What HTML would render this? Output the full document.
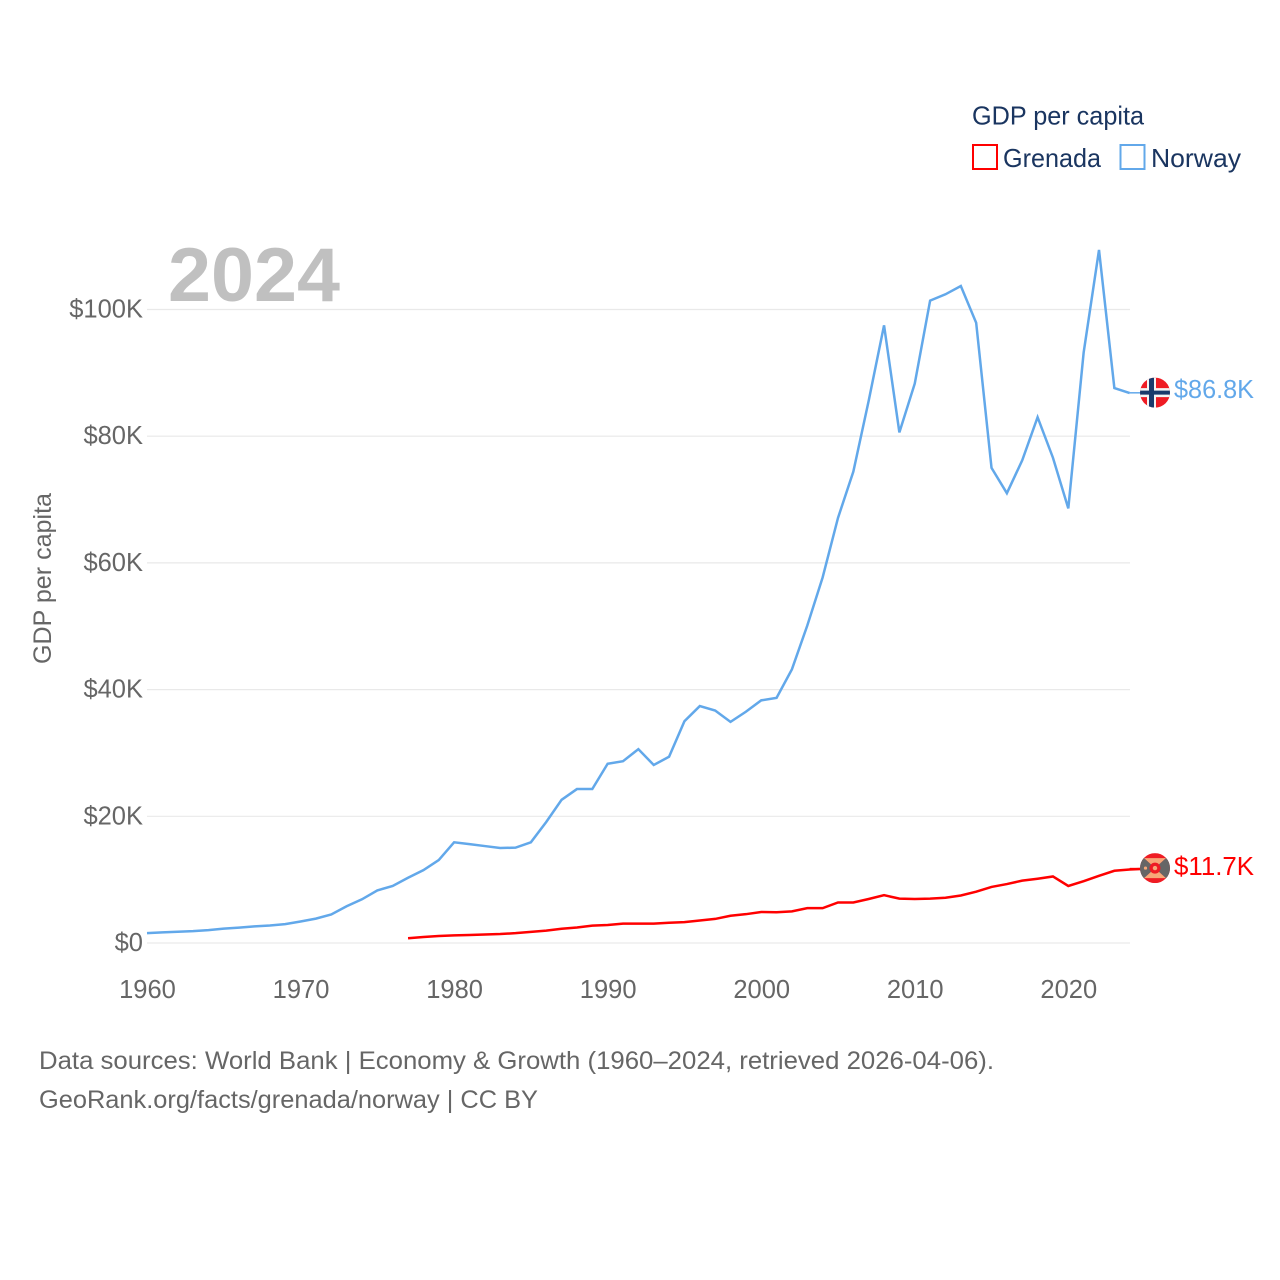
<!DOCTYPE html>
<html lang="en">
<head>
<meta charset="utf-8">
<title>GDP per capita: Grenada and Norway</title>
<style>
html,body{margin:0;padding:0;background:#fff;}
svg{display:block;}
text{font-family:"Liberation Sans",sans-serif;}
.tick{font-size:25.5px;fill:#666;}
.foot{font-size:25px;fill:#666;}
.leg{font-size:26px;fill:#1a3560;}
</style>
</head>
<body>
<svg id="chart" xmlns="http://www.w3.org/2000/svg" width="1280" height="1280" viewBox="0 0 1280 1280">
  <defs>
    <clipPath id="flag-clip-no"><circle cx="0" cy="0" r="15"/></clipPath>
    <clipPath id="flag-clip-gd"><circle cx="0" cy="0" r="15"/></clipPath>
  </defs>
  <rect x="0" y="0" width="1280" height="1280" fill="#fff"/>
  <g id="grid"></g>
  <g id="yticks"></g>
  <g id="xticks"></g>
  <text x="168" y="301" font-size="76" font-weight="700" fill="#c0c0c0" textLength="172" lengthAdjust="spacingAndGlyphs">2024</text>
  <text transform="translate(51,664) rotate(-90)" font-size="25" fill="#666" textLength="171" lengthAdjust="spacingAndGlyphs">GDP per capita</text>
  <g id="series"></g>
  <g id="flag-norway">
    <g clip-path="url(#flag-clip-no)">
      <rect x="-15" y="-15" width="30" height="30" fill="#ef1c24"/>
      <rect x="-8" y="-15" width="9" height="30" fill="#f4f4f4"/>
      <rect x="-15" y="-4.5" width="30" height="9" fill="#f4f4f4"/>
      <rect x="-6" y="-15" width="5" height="30" fill="#1b3a6b"/>
      <rect x="-15" y="-2" width="30" height="4" fill="#1b3a6b"/>
    </g>
  </g>
  <g id="flag-grenada">
    <g clip-path="url(#flag-clip-gd)">
      <rect x="-15" y="-15" width="30" height="30" fill="#ef1c24"/>
      <polygon points="-11,-10 11,-10 0,0" fill="#f7a878"/>
      <polygon points="-11,10 11,10 0,0" fill="#f7a878"/>
      <polygon points="-16,-10 -11,-10 0,0 -11,10 -16,10" fill="#666"/>
      <polygon points="16,-10 11,-10 0,0 11,10 16,10" fill="#666"/>
      <circle cx="0" cy="0" r="5.5" fill="#ef1c24"/>
      <circle cx="0" cy="0" r="2.2" fill="#f7a878"/>
      <circle cx="-9.5" cy="0" r="1.6" fill="#f7a878"/>
    </g>
  </g>
  <g id="end-labels"></g>
  <text class="leg" x="972" y="124.5" textLength="172" lengthAdjust="spacingAndGlyphs">GDP per capita</text>
  <g>
    <rect x="973" y="145" width="24" height="24" fill="none" stroke="#f00" stroke-width="2"/>
    <text class="leg" x="1003" y="167" textLength="98" lengthAdjust="spacingAndGlyphs">Grenada</text>
  </g>
  <g>
    <rect x="1120.5" y="145" width="24" height="24" fill="none" stroke="#62a8ea" stroke-width="2"/>
    <text class="leg" x="1151" y="167" textLength="90" lengthAdjust="spacingAndGlyphs">Norway</text>
  </g>
  <text class="foot" x="39" y="1069" textLength="955" lengthAdjust="spacingAndGlyphs">Data sources: World Bank | Economy &amp; Growth (1960–2024, retrieved 2026-04-06).</text>
  <text class="foot" x="39" y="1108" textLength="499" lengthAdjust="spacingAndGlyphs">GeoRank.org/facts/grenada/norway | CC BY</text>
</svg>
<script>
const norwayStartYear = 1960;
const grenadaStartYear = 1977;
const norwayValues = [1.55,1.67,1.78,1.88,2.04,2.27,2.43,2.62,2.76,2.98,3.4,3.85,4.5,5.8,6.9,8.3,9.0,10.3,11.5,13.1,15.9,15.6,15.3,15.0,15.05,15.9,19.1,22.6,24.3,24.3,28.3,28.7,30.6,28.1,29.4,35.0,37.4,36.7,34.9,36.5,38.3,38.7,43.2,50.1,57.7,67.1,74.4,85.6,97.5,80.6,88.3,101.4,102.4,103.7,97.9,75.0,71.0,76.2,83.0,76.6,68.6,93.2,109.4,87.6,86.8];
const grenadaValues = [0.75,0.95,1.1,1.2,1.27,1.35,1.42,1.55,1.75,1.95,2.25,2.45,2.75,2.85,3.05,3.05,3.05,3.2,3.3,3.55,3.8,4.3,4.55,4.9,4.85,5.0,5.5,5.5,6.4,6.4,6.95,7.55,7.0,6.95,7.0,7.15,7.5,8.1,8.85,9.3,9.85,10.15,10.5,9.0,9.75,10.6,11.4,11.6,11.7];
const xTickYears = [1960,1970,1980,1990,2000,2010,2020];
const yTickValues = [0,20,40,60,80,100];
const yTickLabels = ["$0","$20K","$40K","$60K","$80K","$100K"];

const NS = "http://www.w3.org/2000/svg";
function xScale(year){ return 147 + (year - 1960) * 15.355; }
function yScale(v){ return 943 - v * 6.335; }
function make(tag, parent, attrs){
  const el = document.createElementNS(NS, tag);
  for (const k in attrs) el.setAttribute(k, attrs[k]);
  parent.appendChild(el);
  return el;
}

const grid = document.getElementById("grid");
const yticks = document.getElementById("yticks");
const xticks = document.getElementById("xticks");

yTickValues.forEach(function(v, i){
  const line = make("line", grid, {x1:147, x2:1130, y1:yScale(v), y2:yScale(v), stroke:"#e9e9e9", "stroke-width":1.2});
  
  
  const t = make("text", yticks, {x:143, y:yScale(v)+8, "text-anchor":"end", class:"tick"});
  t.textContent = yTickLabels[i];
  
  
});

xTickYears.forEach(function(yr){
  const t = make("text", xticks, {x:xScale(yr)+0.5, y:998, "text-anchor":"middle", class:"tick"});
  t.textContent = String(yr);
  
  
});

const seriesGroup = document.getElementById("series");
const endLabels = document.getElementById("end-labels");

function pointsFor(values, startYear){
  return values.map(function(v, i){
    return xScale(startYear + i).toFixed(2) + "," + yScale(v).toFixed(2);
  }).join(" ");
}
function money(v){ return "$" + v.toFixed(1) + "K"; }

/* Norway */
const norwayLine = make("polyline", seriesGroup, {points:pointsFor(norwayValues, norwayStartYear), fill:"none", stroke:"#62a8ea", "stroke-width":2.5, "stroke-linejoin":"miter"});


const norwayLast = norwayValues[norwayValues.length - 1];
const norwayY = yScale(norwayLast);
const norwayLeader = make("line", seriesGroup, {x1:xScale(2024), x2:1142, y1:norwayY-0.3, y2:norwayY-0.3, stroke:"#62a8ea", "stroke-width":1.5});


document.getElementById("flag-norway").setAttribute("transform", "translate(1155," + (norwayY-0.5) + ")");
const norwayEnd = make("text", endLabels, {x:1174, y:norwayY+5, "font-size":25.5, fill:"#62a8ea", textLength:80, lengthAdjust:"spacingAndGlyphs"});
norwayEnd.textContent = money(norwayLast);



/* Grenada */
const grenadaLine = make("polyline", seriesGroup, {points:pointsFor(grenadaValues, grenadaStartYear), fill:"none", stroke:"#f00", "stroke-width":2.5, "stroke-linejoin":"miter"});


const grenadaLast = grenadaValues[grenadaValues.length - 1];
const grenadaY = yScale(grenadaLast);
const grenadaLeader = make("line", seriesGroup, {x1:xScale(2024), x2:1142, y1:grenadaY-0.3, y2:grenadaY-0.3, stroke:"#f00", "stroke-width":1.5});


document.getElementById("flag-grenada").setAttribute("transform", "translate(1155," + (grenadaY-0.8) + ")");
const grenadaEnd = make("text", endLabels, {x:1174, y:grenadaY+6, "font-size":25.5, fill:"#f00", textLength:80, lengthAdjust:"spacingAndGlyphs"});
grenadaEnd.textContent = money(grenadaLast);


</script>
</body>
</html>
